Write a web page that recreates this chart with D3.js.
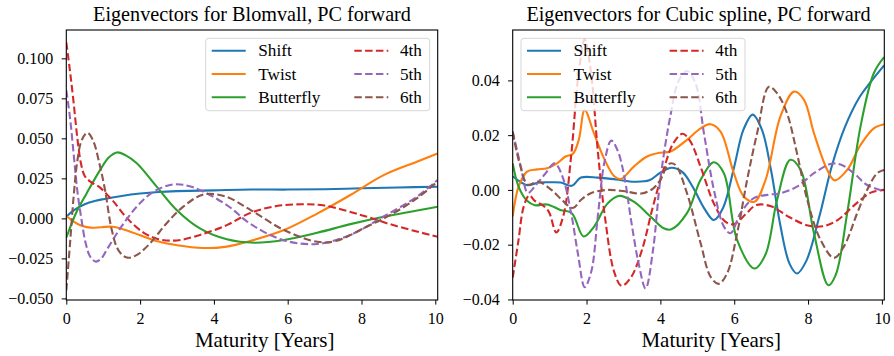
<!DOCTYPE html>
<html>
<head>
<meta charset="utf-8">
<script src="https://cdn.jsdelivr.net/npm/d3@7"></script>
<style>
  body { margin: 0; background: #fff; }
  svg text { font-family: "Liberation Serif", "DejaVu Serif", serif; fill: #000; }
</style>
</head>
<body>
<svg id="chart" width="894" height="356"></svg>
<script>
// Principal component names, colours and line styles
const seriesNames = ["Shift", "Twist", "Butterfly", "4th", "5th", "6th"];
const seriesColors = ["#1f77b4", "#ff7f0e", "#2ca02c", "#d62728", "#9467bd", "#8c564b"];
const seriesDashed = [false, false, false, true, true, true];

const maturityTicks = [0, 2, 4, 6, 8, 10];
const blomvallTicks = [-0.050, -0.025, 0.000, 0.025, 0.050, 0.075, 0.100];
const splineTicks = [-0.04, -0.02, 0.00, 0.02, 0.04];

// Blomvall eigenvectors: [maturity in years, loading]
const blomShift = [[0,0.001],[0.2,0.005],[0.5,0.0088],[0.8,0.011],[1,0.012],[1.5,0.014],[2,0.0155],[2.5,0.0165],[3,0.017],[4,0.0175],[5,0.018],[6,0.018],[7,0.0182],[8,0.0188],[9,0.0193],[10.06,0.0198]];
const blomTwist = [[0,0.0015],[0.2,-0.002],[0.4,-0.0045],[0.65,-0.0058],[0.95,-0.0055],[1.25,-0.0052],[1.6,-0.0072],[2.0,-0.0105],[2.5,-0.0145],[3.0,-0.0168],[3.7,-0.0185],[4.3,-0.0178],[5.0,-0.014],[5.9,-0.0073],[6.8,0.003],[7.7,0.0146],[8.6,0.027],[9.5,0.0354],[10.06,0.0405]];
const blomButterfly = [[0,-0.012],[0.28,0.0041],[0.55,0.0156],[0.91,0.030],[1.15,0.038],[1.37,0.0412],[1.6,0.0395],[1.91,0.0344],[2.45,0.0198],[2.99,0.0052],[3.62,-0.0063],[4.35,-0.0131],[5.1,-0.0152],[5.9,-0.0135],[6.8,-0.009],[7.7,-0.0036],[8.6,0.001],[10.06,0.0073]];
const blom4th = [[0,0.110],[0.1,0.092],[0.2,0.072],[0.3,0.050],[0.4,0.034],[0.5,0.0265],[0.65,0.023],[0.9,0.0195],[1.1,0.015],[1.3,0.010],[1.65,0.000],[2.1,-0.009],[2.5,-0.013],[3.0,-0.0138],[3.6,-0.0105],[4.35,-0.0042],[5.0,0.0035],[5.7,0.0077],[6.4,0.0088],[7.0,0.008],[8.0,0.002],[8.9,-0.0045],[10.06,-0.0115]];
const blom5th = [[0,0.080],[0.1,0.063],[0.2,0.040],[0.3,0.017],[0.4,0.001],[0.52,-0.015],[0.65,-0.024],[0.8,-0.027],[0.95,-0.025],[1.1,-0.0195],[1.46,-0.0063],[1.91,0.0073],[2.36,0.0166],[2.9,0.0212],[3.44,0.0194],[4.35,0.0083],[5.0,-0.0036],[5.88,-0.0136],[6.79,-0.016],[7.69,-0.0104],[8.59,0.001],[9.5,0.0135],[10.06,0.024]];
const blom6th = [[0,-0.045],[0.1,-0.016],[0.2,0.014],[0.3,0.036],[0.42,0.049],[0.57,0.0535],[0.72,0.049],[0.9,0.034],[1.05,0.0177],[1.23,-0.007],[1.41,-0.0198],[1.64,-0.0245],[1.9,-0.023],[2.27,-0.0156],[2.72,-0.003],[3.17,0.0073],[3.7,0.0148],[4.3,0.0138],[5.0,0.0052],[5.9,-0.0073],[6.8,-0.0146],[7.3,-0.0142],[8.14,-0.0052],[8.77,0.002],[9.5,0.0125],[10.06,0.023]];

// Cubic spline eigenvectors: [maturity in years, loading]
const splineShift = [[0,0.005],[0.2,0.003],[0.4,0.0017],[0.7,0.0027],[1.0,0.0028],[1.3,0.0027],[1.6,0.0015],[1.85,0.0045],[2.3,0.0045],[2.8,0.0038],[3.3,0.003],[3.7,0.0035],[4.0,0.0063],[4.3,0.0081],[4.6,0.0065],[4.9,0.0005],[5.2,-0.007],[5.45,-0.011],[5.7,-0.0065],[6.0,0.0085],[6.25,0.022],[6.5,0.0275],[6.75,0.022],[7.0,0.007],[7.25,-0.013],[7.5,-0.027],[7.7,-0.0305],[7.95,-0.026],[8.3,-0.01],[8.65,0.009],[9.0,0.023],[9.4,0.034],[9.7,0.0395],[10.06,0.0455]];
const splineTwist = [[0,-0.0097],[0.16,0.0012],[0.39,0.0067],[0.66,0.0075],[0.93,0.0079],[1.2,0.0097],[1.43,0.0122],[1.63,0.0132],[1.79,0.0183],[1.95,0.0292],[2.2,0.0207],[2.47,0.0116],[2.75,0.0050],[2.93,0.0040],[3.28,0.0085],[3.64,0.0122],[4.0,0.0136],[4.27,0.014],[4.72,0.0183],[5.09,0.0225],[5.36,0.024],[5.63,0.0213],[5.99,0.0061],[6.26,-0.0024],[6.55,-0.0043],[6.85,0.0037],[7.25,0.0268],[7.62,0.0359],[7.89,0.0329],[8.16,0.0207],[8.52,0.0073],[8.72,0.0035],[9.06,0.0073],[9.42,0.0164],[9.78,0.0225],[10.06,0.024]];
const splineButterfly = [[0,0.0097],[0.16,0.0012],[0.39,-0.004],[0.6,-0.0056],[0.93,-0.0053],[1.29,-0.0073],[1.6,-0.0085],[1.92,-0.017],[2.2,-0.0135],[2.56,-0.0051],[2.87,-0.0022],[3.28,-0.0043],[3.73,-0.0097],[4.09,-0.014],[4.3,-0.0144],[4.72,-0.0085],[5.09,0.0037],[5.45,0.0101],[5.72,0.0061],[6.08,-0.0183],[6.55,-0.0287],[6.85,-0.0235],[7.16,-0.0037],[7.52,0.011],[7.8,0.0073],[8.16,-0.0158],[8.55,-0.0348],[8.75,-0.031],[9.06,-0.0085],[9.42,0.0231],[9.78,0.0426],[10.06,0.0485]];
const spline4th = [[0,-0.032],[0.15,-0.019],[0.3,-0.006],[0.45,-0.002],[0.6,-0.004],[0.8,-0.0055],[0.98,-0.008],[1.18,-0.0155],[1.38,-0.009],[1.58,0.012],[1.78,0.042],[1.95,0.055],[2.12,0.043],[2.3,0.015],[2.5,-0.010],[2.75,-0.030],[2.95,-0.035],[3.2,-0.032],[3.5,-0.022],[3.8,-0.006],[4.1,0.008],[4.35,0.017],[4.6,0.0205],[4.8,0.018],[5.1,0.008],[5.45,-0.005],[5.75,-0.0115],[6.0,-0.0125],[6.3,-0.009],[6.6,-0.0055],[7.0,-0.006],[7.5,-0.010],[8.0,-0.013],[8.4,-0.0133],[8.8,-0.011],[9.3,-0.005],[9.7,-0.001],[10.06,0.0]];
const spline5th = [[0,0.0214],[0.23,0.008],[0.41,-0.0011],[0.64,0.002],[0.87,0.0057],[1.14,0.0097],[1.36,0.0044],[1.59,-0.009],[1.77,-0.0236],[1.95,-0.0355],[2.13,-0.0297],[2.31,-0.009],[2.49,0.0105],[2.67,0.018],[2.85,0.0141],[3.03,0.0044],[3.21,-0.0114],[3.4,-0.0261],[3.6,-0.036],[3.8,-0.022],[4.0,0.004],[4.27,0.027],[4.5,0.040],[4.72,0.0434],[4.95,0.039],[5.18,0.0207],[5.45,0.0],[5.72,-0.0134],[5.9,-0.0158],[6.17,-0.0085],[6.53,-0.003],[6.9,-0.0018],[7.25,-0.0012],[7.7,0.0012],[8.16,0.0061],[8.61,0.0095],[8.88,0.0093],[9.24,0.0061],[9.6,0.0018],[10.06,-0.0004]];
const spline6th = [[0,0.021],[0.2,0.009],[0.41,0.0019],[0.69,0.003],[1.05,0.0],[1.36,-0.004],[1.63,-0.0066],[1.86,-0.0035],[2.13,-0.0011],[2.58,0.0],[3.03,-0.0005],[3.49,-0.0013],[3.8,0.0005],[4.0,0.0037],[4.23,0.0095],[4.4,0.0092],[4.72,-0.0012],[5.09,-0.0195],[5.36,-0.0317],[5.58,-0.0343],[5.81,-0.0304],[6.08,-0.0158],[6.35,0.0037],[6.62,0.0207],[6.94,0.0377],[7.16,0.0353],[7.43,0.028],[7.7,0.0134],[7.98,-0.0037],[8.34,-0.0183],[8.7,-0.0248],[8.97,-0.0207],[9.33,-0.0085],[9.6,0.0],[9.87,0.0061],[10.06,0.0073]];

const svg = d3.select("#chart");

function drawPanel(cfg) {
  const x = d3.scaleLinear().domain([0, 10.065]).range([cfg.left, cfg.right]);
  const y = d3.scaleLinear().domain(cfg.yDomain).range([300, 30]);
  const g = svg.append("g");

  const clipId = "clip-" + cfg.id;
  svg.append("clipPath").attr("id", clipId)
    .append("rect").attr("x", cfg.left).attr("y", 30)
    .attr("width", cfg.right - cfg.left).attr("height", 270);

  const line = d3.line()
    .x(d => x(d[0])).y(d => y(d[1]))
    .curve(d3.curveCatmullRom.alpha(0.5));

  const plot = g.append("g").attr("clip-path", `url(#${clipId})`);
  cfg.series.forEach((s, i) => {
    plot.append("path")
      .datum(s)
      .attr("d", line)
      .attr("fill", "none")
      .attr("stroke", seriesColors[i])
      .attr("stroke-width", 2.1)
      .attr("stroke-dasharray", seriesDashed[i] ? "7.5,3.3" : null);
  });

  // axes
  const xAxis = d3.axisBottom(x).tickValues(maturityTicks).tickFormat(d3.format("d"))
    .tickSize(4.6).tickSizeOuter(0).tickPadding(8);
  const yAxis = d3.axisLeft(y).tickValues(cfg.yTicks).tickFormat(d3.format(cfg.yFormat))
    .tickSize(4.6).tickSizeOuter(0).tickPadding(8.4);

  const gx = g.append("g").attr("transform", "translate(0,300)").call(xAxis);
  const gy = g.append("g").attr("transform", `translate(${cfg.left},0)`).call(yAxis);
  [gx, gy].forEach(a => {
    a.select(".domain").remove();
    a.selectAll(".tick line").attr("stroke", "#000").attr("stroke-width", 1);
    a.selectAll(".tick text").attr("font-size", 16).attr("fill", "#000")
      .style("font-family", '"Liberation Serif", "DejaVu Serif", serif');
  });

  // frame
  g.append("rect")
    .attr("x", cfg.left).attr("y", 30)
    .attr("width", cfg.right - cfg.left).attr("height", 270)
    .attr("fill", "none").attr("stroke", "#000").attr("stroke-width", 1.1);

  // title and axis label
  g.append("text")
    .attr("x", (cfg.left + cfg.right) / 2).attr("y", 20.5)
    .attr("text-anchor", "middle").attr("font-size", 20.2)
    .text(cfg.title);
  g.append("text")
    .attr("x", (cfg.left + cfg.right) / 2 + 12.7).attr("y", 346.5)
    .attr("text-anchor", "middle").attr("font-size", 21)
    .text("Maturity [Years]");

  // legend
  const lg = g.append("g").attr("transform", `translate(${cfg.legendX},38.3)`);
  lg.append("rect")
    .attr("width", 224).attr("height", 72.4).attr("rx", 3)
    .attr("fill", "#fff").attr("fill-opacity", 0.8)
    .attr("stroke", "#ccc").attr("stroke-opacity", 0.8).attr("stroke-width", 1);
  seriesNames.forEach((name, i) => {
    const col = Math.floor(i / 3), row = i % 3;
    const hx = col === 0 ? 6 : 148.6;
    const tx = col === 0 ? 52.6 : 194.3;
    const ry = 12.4 + row * 23.3;
    lg.append("line")
      .attr("x1", hx).attr("x2", hx + 34).attr("y1", ry).attr("y2", ry)
      .attr("stroke", seriesColors[i]).attr("stroke-width", 2.1)
      .attr("stroke-dasharray", seriesDashed[i] ? "7.5,3.3" : null);
    lg.append("text")
      .attr("x", tx).attr("y", ry + 5.8)
      .attr("font-size", 17.2)
      .text(name);
  });
}

drawPanel({
  id: "blomvall",
  left: 66.3, right: 437.7,
  yDomain: [-0.051, 0.1177],
  yTicks: blomvallTicks, yFormat: ".3f",
  title: "Eigenvectors for Blomvall, PC forward",
  legendX: 205.7,
  series: [blomShift, blomTwist, blomButterfly, blom4th, blom5th, blom6th]
});

drawPanel({
  id: "spline",
  left: 512.7, right: 884.3,
  yDomain: [-0.0402, 0.0584],
  yTicks: splineTicks, yFormat: ".2f",
  title: "Eigenvectors for Cubic spline, PC forward",
  legendX: 521,
  series: [splineShift, splineTwist, splineButterfly, spline4th, spline5th, spline6th]
});
</script>
</body>
</html>
